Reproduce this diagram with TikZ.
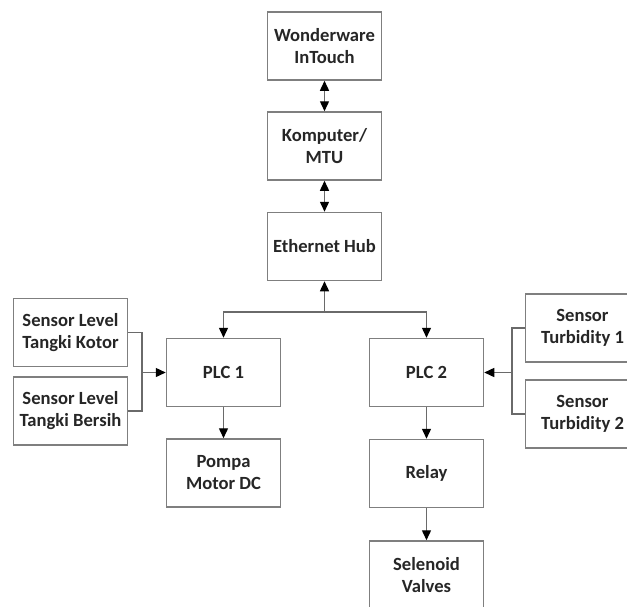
\documentclass[tikz,border=0pt]{standalone}
\usepackage{fontspec}
\setmainfont{Carlito}
\usepackage{tikz}
\usetikzlibrary{arrows.meta, positioning}
\definecolor{boxgray}{HTML}{7F7F7F}
\definecolor{linegray}{HTML}{6A6A6A}
\definecolor{textdark}{HTML}{262626}

\tikzset{
    blok/.style={draw=boxgray, line width=0.75pt, fill=white, align=center,
        minimum width=57pt, minimum height=34pt, inner sep=2pt,
        text=textdark, font=\fontsize{9.3}{11}\selectfont\bfseries},
    link/.style={draw=linegray, line width=0.7pt},
}

\begin{document}
\begin{tikzpicture}[x=0.5pt, y=-0.5pt,
    >={Triangle[length=5pt, width=4.5pt, color=black]}]
    \clip (0,0) rectangle (627,606);

    % SCADA chain
    \node[blok] (ww)   at (324.5, 46)  {Wonderware\\InTouch};
    \node[blok] (komp) at (324.5, 146) {Komputer/\\MTU};
    \node[blok] (hub)  at (324.5, 246.5) {Ethernet Hub};

    % PLCs
    \node[blok] (plc1) at (223.5, 372.5) {PLC 1};
    \node[blok] (plc2) at (426.5, 372.5) {PLC 2};

    % Sensors
    \node[blok] (kotor)  at (70.5, 332.5) {Sensor Level\\Tangki Kotor};
    \node[blok] (bersih) at (70.5, 411)   {Sensor Level\\Tangki Bersih};
    \node[blok] (tb1) at (582.5, 328) {Sensor\\Turbidity 1};
    \node[blok] (tb2) at (582.5, 414) {Sensor\\Turbidity 2};

    % Actuators
    \node[blok] (pompa) at (223.5, 473)   {Pompa\\Motor DC};
    \node[blok] (relay) at (426.5, 473.5) {Relay};
    \node[blok] (sel)   at (426.5, 575)   {Selenoid\\Valves};

    % Junctions
    \coordinate (jh) at (324.5, 312);
    \coordinate (jl) at (142, 372.5);
    \coordinate (jr) at (512, 372.5);

    % Connectors
    \draw[link, <->] (ww) -- (komp);
    \draw[link, <->] (komp) -- (hub);
    \draw[link, ->] (jh) -- (hub);
    \draw[link, ->] (jh) -| (plc1);
    \draw[link, ->] (jh) -| (plc2);

    \draw[link] (kotor.east) -| (jl) |- (bersih.east);
    \draw[link, ->] (jl) -- (plc1);
    \draw[link] (tb1.west) -| (jr) |- (tb2.west);
    \draw[link, ->] (jr) -- (plc2);

    \draw[link, ->] (plc1) -- (pompa);
    \draw[link, ->] (plc2) -- (relay);
    \draw[link, ->] (relay) -- (sel);
\end{tikzpicture}
\end{document}
